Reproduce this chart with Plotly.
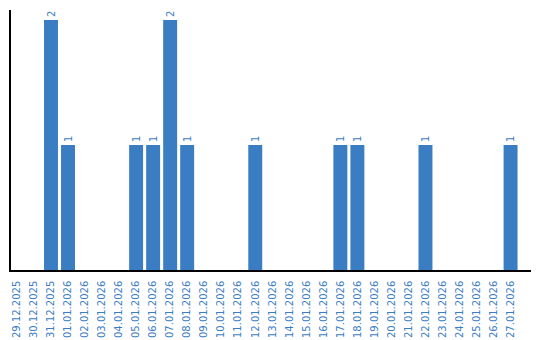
import plotly.graph_objects as go

dates = ["29.12.2025", "30.12.2025", "31.12.2025", "01.01.2026", "02.01.2026", "03.01.2026",
         "04.01.2026", "05.01.2026", "06.01.2026", "07.01.2026", "08.01.2026", "09.01.2026",
         "10.01.2026", "11.01.2026", "12.01.2026", "13.01.2026", "14.01.2026", "15.01.2026",
         "16.01.2026", "17.01.2026", "18.01.2026", "19.01.2026", "20.01.2026", "21.01.2026",
         "22.01.2026", "23.01.2026", "24.01.2026", "25.01.2026", "26.01.2026", "27.01.2026"]
counts = [0, 0, 2, 1, 0, 0, 0, 1, 1, 2, 1, 0, 0, 0, 1, 0, 0, 0, 0, 1, 1, 0, 0, 0, 1, 0, 0, 0, 0, 1]

color = "#3B7DC3"
labels = [str(v) if v else "" for v in counts]

fig = go.Figure(go.Bar(
    x=dates, y=counts, marker_color=color, marker_line_width=0,
    text=labels, textposition="outside", textangle=-90,
    textfont=dict(family="DejaVu Sans", size=10, color=color),
    cliponaxis=False,
))
fig.update_layout(
    width=540, height=340, margin=dict(l=11, r=9, t=10, b=70),
    plot_bgcolor="white", paper_bgcolor="white", bargap=0.18,
    showlegend=False,
    font=dict(family="DejaVu Sans", size=10, color=color),
)
fig.update_xaxes(type="category", range=[-0.35, 30.2], tickangle=-90,
                 showline=True, linecolor="black", linewidth=1.5, ticks="",
                 ticklabelstandoff=5, automargin=False,
                 showgrid=False, tickfont=dict(family="DejaVu Sans", size=10, color=color))
fig.update_yaxes(range=[0, 2.08], showline=True, linecolor="black", linewidth=1.5,
                 showticklabels=False, ticks="", showgrid=False, zeroline=False,
                 automargin=False)
fig.write_html("out.html")
